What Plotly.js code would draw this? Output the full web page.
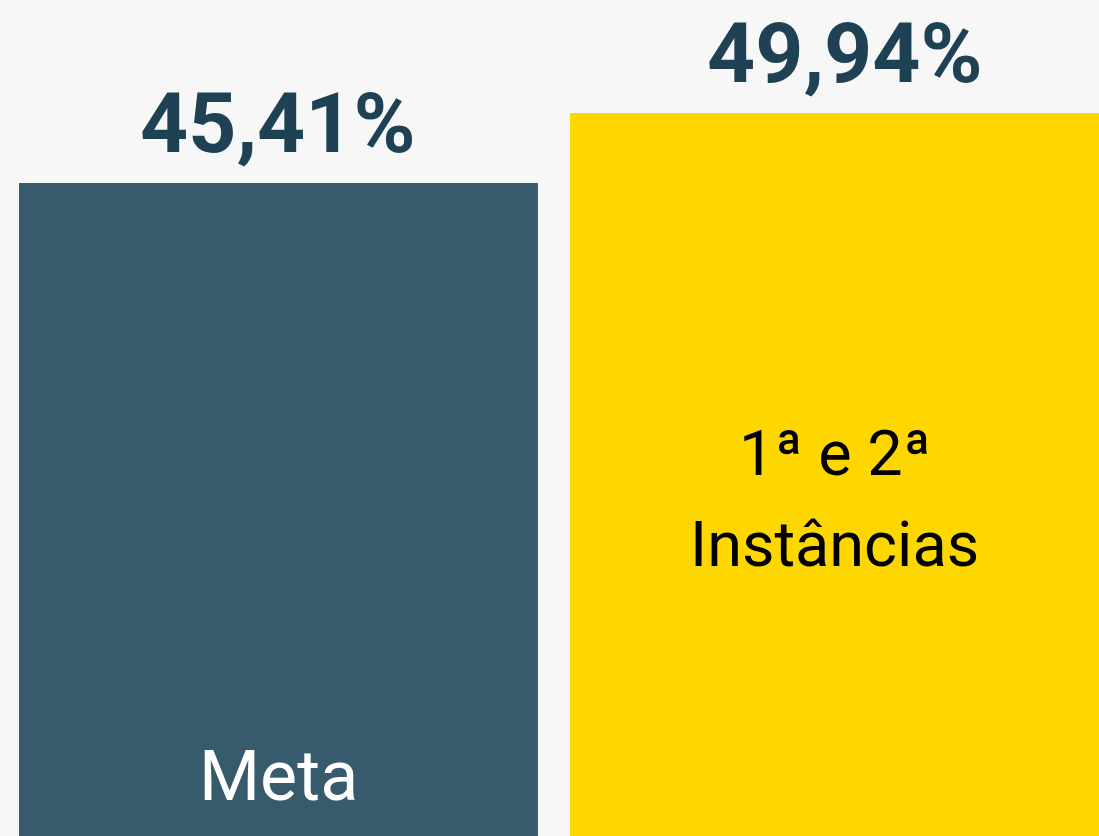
<!DOCTYPE html>
<html>
<head>
<meta charset="utf-8">
<script src="https://cdn.plot.ly/plotly-3.0.1.min.js"></script>
<style>
html,body{margin:0;padding:0;background:#f7f7f7;}
#chart{width:1099px;height:836px;}
</style>
</head>
<body>
<div id="chart"></div>
<script>
const categories = ["Meta", "1ª e 2ª<br>Instâncias"];
const values = [45.41, 49.94];
const valueLabels = ["45,41%", "49,94%"];
const barColors = ["#375a6c", "#ffd700"];
const innerTextColors = ["#ffffff", "#000000"];

const xs = [0, 1];

const trace = {
  type: "bar",
  x: xs,
  y: values,
  width: [0.916, 0.971],
  marker: {color: barColors, line: {width: 0}},
  hoverinfo: "none"
};

const annotations = [];
xs.forEach((x, i) => {
  annotations.push({
    x: x, y: values[i], xref: "x", yref: "y",
    text: "<b>" + valueLabels[i] + "</b>",
    showarrow: false, xanchor: "center", yanchor: "bottom", yshift: 8,
    font: {family: "Roboto, sans-serif", size: 84, color: "#1e4153"}
  });
});
// "Meta" near the bottom of its bar
annotations.push({
  x: xs[0], y: 0.072, xref: "x", yref: "paper",
  text: categories[0], showarrow: false, xanchor: "center", yanchor: "middle",
  font: {family: "Roboto, sans-serif", size: 70, color: innerTextColors[0]}
});
// two-line label in the second bar, one annotation per line
const lines = categories[1].split("<br>");
const lineYs = [0.458, 0.349];
lines.forEach((ln, j) => {
  annotations.push({
    x: xs[1], y: lineYs[j], xref: "x", yref: "paper", xshift: -10,
    text: ln, showarrow: false, xanchor: "center", yanchor: "middle",
    font: {family: "Roboto, sans-serif", size: 63, color: innerTextColors[1]}
  });
});

const layout = {
  width: 1099, height: 836,
  margin: {l: 0, r: 0, t: 0, b: 0, pad: 0},
  paper_bgcolor: "#f7f7f7",
  plot_bgcolor: "#f7f7f7",
  showlegend: false,
  xaxis: {range: [-0.4916, 1.4484], visible: false, fixedrange: true},
  yaxis: {range: [3.15, 57.25], visible: false, fixedrange: true},
  annotations: annotations
};

Plotly.newPlot("chart", [trace], layout, {displayModeBar: false, staticPlot: true});
</script>
</body>
</html>
